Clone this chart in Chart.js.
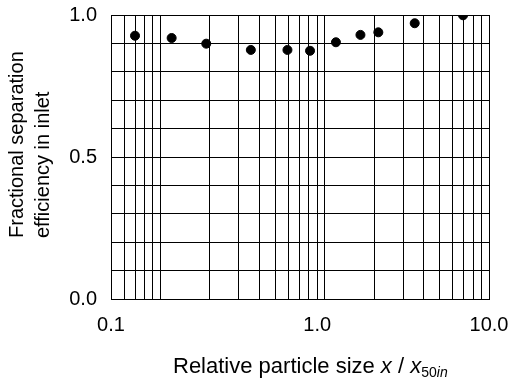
<!DOCTYPE html>
<html>
<head>
<meta charset="utf-8">
<script src="https://cdn.jsdelivr.net/npm/chart.js@4.4.1/dist/chart.umd.min.js"></script>
<style>
  html, body { margin: 0; padding: 0; background: #fff; }
  #wrap { width: 514px; height: 384px; position: relative; }
</style>
</head>
<body>
<div id="wrap"><canvas id="eff"></canvas></div>
<script>
// Measured points (x on the log grid, y = fractional efficiency)
const sizeRatio = [0.070, 0.117, 0.190, 0.355, 0.593, 0.814, 1.17, 1.65, 2.12, 3.53, 6.95];
const efficiency = [0.927, 0.919, 0.899, 0.877, 0.877, 0.874, 0.904, 0.930, 0.939, 0.971, 0.999];

// Log paper grid lines and the printed labels on them
const xGrid = [0.05, 0.06, 0.07, 0.08, 0.09, 0.1, 0.2, 0.3, 0.4, 0.5, 0.6, 0.7, 0.8, 0.9,
               1, 2, 3, 4, 5, 6, 7, 8, 9, 10];
const xLabelAt = [0.05, 0.9, 10];
const xLabelText = ['0.1', '1.0', '10.0'];

const yGrid = [0, 0.1, 0.2, 0.3, 0.4, 0.5, 0.6, 0.7, 0.8, 0.9, 1.0];
const yLabelAt = [0, 0.5, 1.0];
const yLabelText = ['0.0', '0.5', '1.0'];

const FONT = '"Liberation Sans", Arial, Helvetica, sans-serif';

function labelFor(value, at, text) {
    const i = at.findIndex(v => Math.abs(v - value) < 1e-9);
    return i >= 0 ? text[i] : '';
}

// Axis titles: two-line rotated y title and an x title with italics / subscript
const axisTitles = {
    id: 'axisTitles',
    afterDraw(chart) {
        const ctx = chart.ctx;
        ctx.save();
        ctx.fillStyle = '#000';

        ctx.font = '20px ' + FONT;
        ctx.textBaseline = 'middle';
        ctx.textAlign = 'left';
        [['Fractional separation', 17], ['efficiency in inlet', 43]].forEach(([txt, x]) => {
            ctx.save();
            ctx.translate(x, 238);
            ctx.rotate(-Math.PI / 2);
            ctx.fillText(txt, 0, 0);
            ctx.restore();
        });

        const parts = [
            ['Relative particle size ', '22px ' + FONT, 0],
            ['x', 'italic 22px ' + FONT, 0],
            [' / ', '22px ' + FONT, 0],
            ['x', 'italic 22px ' + FONT, 0],
            ['50', '14px ' + FONT, 4],
            ['in', 'italic 14px ' + FONT, 4]
        ];
        ctx.textBaseline = 'alphabetic';
        let x = 173;
        parts.forEach(([txt, font, dy]) => {
            ctx.font = font;
            ctx.fillText(txt, x, 373 + dy);
            x += ctx.measureText(txt).width;
        });
        ctx.restore();
    }
};

new Chart(document.getElementById('eff'), {
    type: 'scatter',
    data: {
        datasets: [{
            data: sizeRatio.map((x, i) => ({ x, y: efficiency[i] })),
            backgroundColor: '#000',
            borderColor: '#000',
            pointRadius: 4.5,
            pointHoverRadius: 4.5
        }]
    },
    options: {
        responsive: true,
        maintainAspectRatio: false,
        animation: false,
        layout: { padding: { left: 0, right: 25, top: 15, bottom: 0 } },
        plugins: {
            legend: { display: false },
            tooltip: { enabled: false }
        },
        scales: {
            x: {
                type: 'logarithmic',
                min: 0.05,
                max: 10,
                afterBuildTicks: axis => { axis.ticks = xGrid.map(v => ({ value: v })); },
                afterFit: axis => {
                    axis.height = 85;
                    axis.paddingLeft = 0;
                    axis.paddingRight = 0;
                },
                border: { color: '#000', width: 1 },
                grid: { color: '#000', lineWidth: 1, drawTicks: false },
                ticks: {
                    autoSkip: false,
                    maxRotation: 0,
                    minRotation: 0,
                    padding: 14,
                    color: '#000',
                    font: { family: FONT, size: 20 },
                    callback: v => labelFor(v, xLabelAt, xLabelText)
                }
            },
            y: {
                type: 'linear',
                min: 0,
                max: 1,
                afterBuildTicks: axis => { axis.ticks = yGrid.map(v => ({ value: v })); },
                afterFit: axis => {
                    axis.width = 111;
                    axis.paddingTop = 0;
                    axis.paddingBottom = 0;
                },
                border: { color: '#000', width: 1 },
                grid: { color: '#000', lineWidth: 1, drawTicks: false },
                ticks: {
                    autoSkip: false,
                    padding: 14,
                    color: '#000',
                    font: { family: FONT, size: 20 },
                    callback: v => labelFor(v, yLabelAt, yLabelText)
                }
            }
        }
    },
    plugins: [axisTitles]
});
</script>
</body>
</html>
